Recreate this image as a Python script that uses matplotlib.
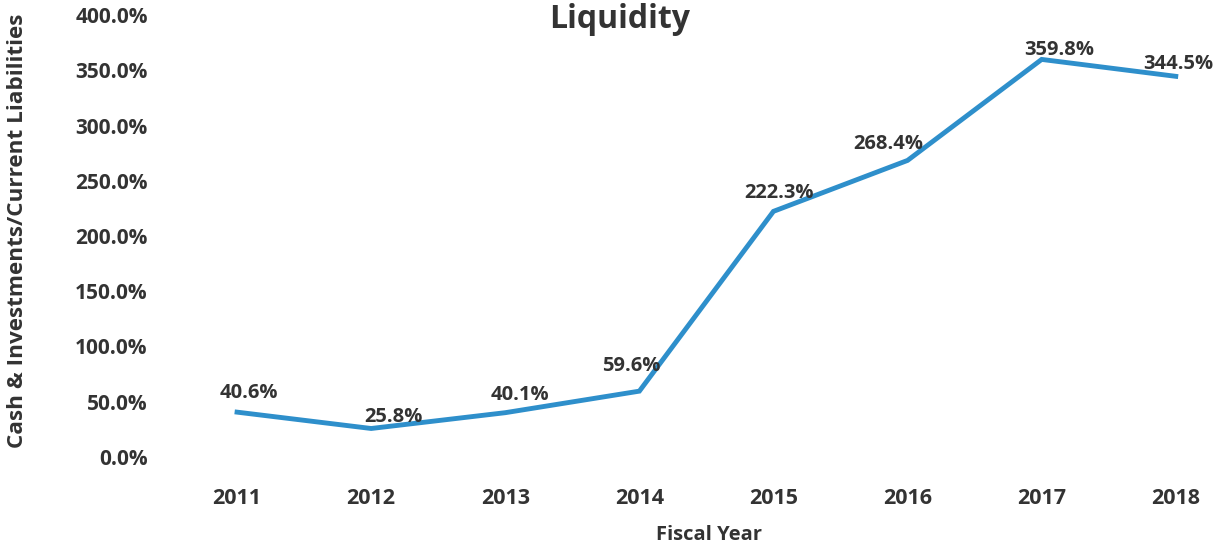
import matplotlib
matplotlib.use("Agg")
import matplotlib.pyplot as plt
import numpy as np

plt.rcParams['font.family'] = ['Open Sans', 'DejaVu Sans']

years = ['2011', '2012', '2013', '2014', '2015', '2016', '2017', '2018']
liquidity = [40.6, 25.8, 40.1, 59.6, 222.3, 268.4, 359.8, 344.5]
value_labels = ['40.6%', '25.8%', '40.1%', '59.6%', '222.3%', '268.4%', '359.8%', '344.5%']

# label offsets (pixels) picked by eye from the original
label_offsets = [(12, 19), (22, 11), (15, 18), (-8, 25), (6, 18), (-19, 16), (18, 9), (2, 12)]

text_color = '#333333'
line_color = '#2E8FCB'

fig = plt.figure(figsize=(12.2, 5.5), dpi=100)
ax = fig.add_axes([170 / 1220, 93 / 550, (1216 - 170) / 1220, 442 / 550])

x = np.arange(len(years))
ax.plot(x, liquidity, color=line_color, linewidth=3.5, solid_joinstyle='miter')

for xi, v, lab, off in zip(x, liquidity, value_labels, label_offsets):
    ax.annotate(lab, xy=(xi, v), xytext=off, textcoords='offset pixels',
                ha='center', va='center', fontsize=14.5, fontweight='bold',
                color=text_color)

ax.set_xlim(-0.5, 7.3)
ax.set_ylim(0, 400)
ax.set_yticks(np.arange(0, 401, 50))
ax.set_yticklabels(['{:.1f}%'.format(t) for t in np.arange(0, 401, 50)])
ax.set_xticks(x)
ax.set_xticklabels(years)

for s in ax.spines.values():
    s.set_visible(False)
ax.tick_params(axis='both', length=0, labelcolor=text_color)
ax.tick_params(axis='y', pad=16, labelsize=15)
ax.tick_params(axis='x', pad=22, labelsize=15.5)
for t in ax.get_xticklabels() + ax.get_yticklabels():
    t.set_fontweight('bold')

fig.text(620 / 1220, 1 - 19 / 550, 'Liquidity', ha='center', va='center',
         fontsize=23, fontweight='bold', color=text_color)
fig.text(709 / 1220, 1 - 535 / 550, 'Fiscal Year', ha='center', va='center',
         fontsize=14.5, fontweight='bold', color=text_color)
fig.text(18 / 1220, 1 - 231 / 550, 'Cash & Investments/Current Liabilities',
         ha='center', va='center', rotation=90, fontsize=16.2,
         fontweight='bold', color=text_color)

fig.savefig('out.png', dpi=100)
